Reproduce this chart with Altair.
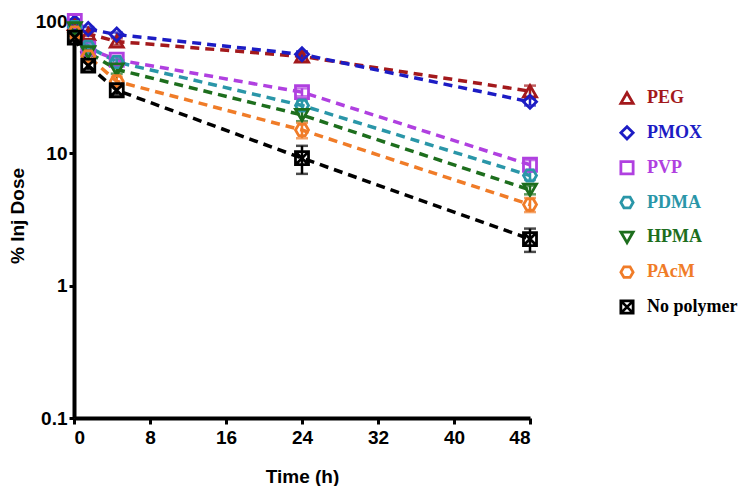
import altair as alt
import pandas as pd

times = [0.083, 1.5, 4.5, 24, 48]
series = ["PEG", "PMOX", "PVP", "PDMA", "HPMA", "PAcM", "No polymer"]
values = {
    "PEG": [95, 80, 70, 54, 29.5],
    "PMOX": [98, 87, 79, 56, 24.5],
    "PVP": [100, 62, 51, 29, 8.2],
    "PDMA": [90, 64, 49, 23, 6.8],
    "HPMA": [88, 58, 43, 19.5, 5.3],
    "PAcM": [82, 54, 35, 15, 4.1],
    "No polymer": [75, 46, 30, 9.2, 2.25],
}
errors = {
    "PEG": [3, 3, 4, 4, 3],
    "PMOX": [3, 3, 3, 3, 1.5],
    "PVP": [3, 3, 3, 2, 0.7],
    "PDMA": [3, 3, 3, 2, 0.5],
    "HPMA": [3, 3, 3, 2, 0.4],
    "PAcM": [3, 3, 3, 2, 0.5],
    "No polymer": [3, 3, 2, 2.2, 0.45],
}
colors = ["#a3191c", "#1c1cc4", "#b040e0", "#2a96a8", "#1d6e1d", "#f07c28", "#000000"]
hexagon = "M-1,0L-0.5,-0.866L0.5,-0.866L1,0L0.5,0.866L-0.5,0.866Z"
boxx = "M-1,-1L1,-1L1,1L-1,1Z M-1,-1L1,1 M1,-1L-1,1"
shapes = ["triangle-up", "diamond", "square", hexagon, "triangle-down", hexagon, boxx]

rows = []
for s in series:
    for t, v, e in zip(times, values[s], errors[s]):
        rows.append({"series": s, "time": t, "value": v, "lo": v - e, "hi": v + e})
df = pd.DataFrame(rows)

color = alt.Color("series:N", scale=alt.Scale(domain=series, range=colors), legend=None)
shape = alt.Shape("series:N", scale=alt.Scale(domain=series, range=shapes), legend=None)

YTITLE = "% Inj Dose"
xenc = alt.X("time:Q", title="Time (h)",
             scale=alt.Scale(domain=[0, 48], nice=False),
             axis=alt.Axis(values=[0, 8, 16, 24, 32, 40, 48], grid=False,
                           domainWidth=4, domainColor="black", tickWidth=3, tickSize=6,
                           tickColor="black", labelPadding=4,
                           labelFont="Liberation Sans", labelFontWeight="bold", labelFontSize=19,
                           labelColor="black",
                           titleFont="Liberation Sans", titleFontWeight="bold", titleFontSize=19,
                           titleColor="black", titlePadding=20))
yscale = alt.Scale(type="log", domain=[0.1, 115], nice=False)
yenc = alt.Y("value:Q", title=YTITLE, scale=yscale,
             axis=alt.Axis(values=[0.1, 1, 10, 100], format="~g", grid=False,
                           domainWidth=4, domainColor="black", tickWidth=3, tickSize=5,
                           tickColor="black", labelPadding=2,
                           labelFont="Liberation Sans", labelFontWeight="bold", labelFontSize=19,
                           labelColor="black",
                           titleFont="Liberation Sans", titleFontWeight="bold", titleFontSize=19,
                           titleColor="black", titlePadding=8))

base = alt.Chart(df)
lines = base.mark_line(strokeDash=[9, 6], strokeWidth=3.5).encode(
    x=xenc, y=yenc, color=color, detail="series:N")
errbars = base.mark_errorbar(ticks={"size": 12, "thickness": 2.5}, thickness=2.5).encode(
    x="time:Q", y=alt.Y("lo:Q", scale=yscale, title=YTITLE), y2="hi:Q", color=color)
points = base.mark_point(filled=False, size=170, strokeWidth=2.8, opacity=1).encode(
    x="time:Q", y=alt.Y("value:Q", scale=yscale, title=YTITLE), color=color, shape=shape)

main = alt.layer(lines, errbars, points).properties(width=456, height=405)

leg_df = pd.DataFrame({"series": series})
leg_y = alt.Y("series:N", scale=alt.Scale(domain=series, range=[85, 294], padding=0), axis=None)
leg_pts = alt.Chart(leg_df).mark_point(filled=False, size=150, strokeWidth=2.8, opacity=1).encode(
    x=alt.value(24), y=leg_y, color=color, shape=shape)
leg_txt = alt.Chart(leg_df).mark_text(align="left", baseline="middle", font="Liberation Serif",
                                      fontWeight="bold", fontSize=18).encode(
    x=alt.value(44), y=leg_y, text="series:N", color=color)
legend = alt.layer(leg_pts, leg_txt).properties(width=140, height=405)

chart = alt.hconcat(main, legend, spacing=60).configure_view(stroke=None).properties(
    padding={"left": 0, "top": 0, "right": 0, "bottom": 0})

chart.save("out.html", embed_options={"renderer": "svg", "actions": False})
